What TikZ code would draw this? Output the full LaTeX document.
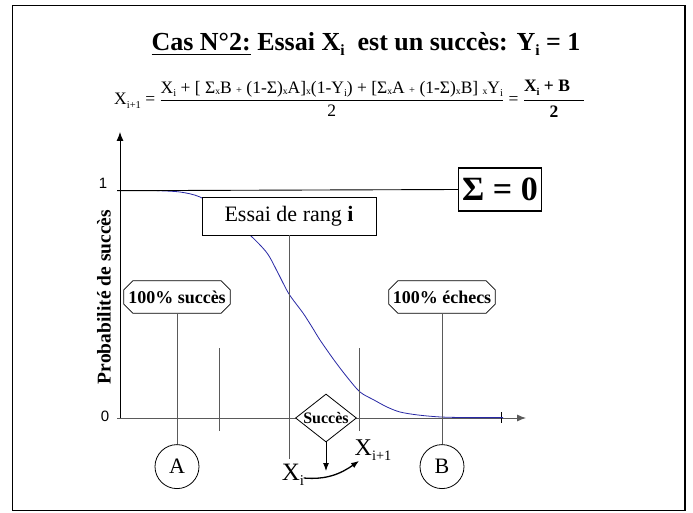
\documentclass[tikz,border=0pt]{standalone}
\usepackage{amsmath}
\usepackage{graphicx}
\usepackage{fontspec}
\setmainfont{Liberation Serif}[BoldFont={Liberation Serif Bold}, ItalicFont={Liberation Serif Italic}]
\newfontfamily\arialfont{Liberation Sans}
\usepackage{tikz}
\usetikzlibrary{shapes.geometric, arrows.meta, positioning, calc}
\usepackage{xcolor}
\definecolor{curveblue}{RGB}{40,40,165}
\definecolor{lineg}{RGB}{90,90,90}
\newcommand{\fsz}[1]{\fontsize{#1}{#1}\selectfont}
\newcommand{\idx}[1]{\raisebox{-0.45ex}{\scalebox{0.6}{#1}}}
\newcommand{\mulx}{\raisebox{-0.1ex}{\scalebox{0.55}{x}}}
\newcommand{\smplus}{\scalebox{0.6}{+}}
% chamfered outline round a named node
\newcommand{\hexframe}[1]{%
    \draw[draw=black, line width=0.8pt]
        ([xshift=9pt]#1.north west) -- ([xshift=-9pt]#1.north east)
        -- ([yshift=-9pt]#1.north east) -- ([yshift=9pt]#1.south east)
        -- ([xshift=-9pt]#1.south east) -- ([xshift=9pt]#1.south west)
        -- ([yshift=9pt]#1.south west) -- ([yshift=-9pt]#1.north west) -- cycle;}

\begin{document}
\begin{tikzpicture}[x=1pt, y=-1pt,
    hexbox/.style={rectangle, fill=white, minimum width=106pt, minimum height=32pt, inner sep=0pt, font=\fsz{18}\bfseries},
    textbox/.style={rectangle, draw=black, line width=0.8pt, fill=white, minimum width=174pt, minimum height=38pt, font=\fsz{22}},
    sigmabox/.style={rectangle, draw=black, fill=white, line width=1.1pt, minimum width=80pt, minimum height=43pt, font=\fsz{34}\bfseries},
    circ/.style={circle, draw=black, line width=0.8pt, fill=white, minimum size=44pt, inner sep=0pt, font=\fsz{22}},
    decision/.style={diamond, draw=black, line width=0.8pt, fill=white, minimum width=61pt, minimum height=48pt, inner sep=0pt, font=\fsz{16}\bfseries},
    guide/.style={draw=lineg, line width=0.9pt},
    axis/.style={-{Latex[length=9pt, width=7pt]}, line width=0.9pt},
    arrow/.style={-{Latex[length=8pt, width=6pt]}, line width=0.9pt}]

    % Page and frame
    \fill[white] (0,0) rectangle (693,513);
    \useasboundingbox (0,0) rectangle (693,513);
    \draw[line width=1.7pt] (12.5,5.5) rectangle (685,510.5);

    % Title and formula
    \node[font=\fsz{26}\bfseries] (title) at (366,44) {\underline{Cas N°2:} Essai X\idx{i}\ \ est un succès: Y\idx{i} = 1};
    \node[anchor=base west, font=\fsz{17.5}, inner sep=0pt] (eq) at (114,105) {X\idx{i+1} = $\dfrac{\text{X\idx{i} + [ Σ\mulx B \smplus{} (1-Σ)\mulx A]\mulx(1-Y\idx{i}) + [Σ\mulx A \smplus{} (1-Σ)\mulx B] \mulx Y\idx{i}}}{\text{2}}$ = $\genfrac{}{}{1.6pt}{0}{\text{\bfseries X\idx{i} + B}\hspace{14pt}}{\text{\bfseries 2}}$};

    % Axes
    \coordinate (orig) at (120,418);
    \coordinate (ytip) at (120,132);
    \coordinate (xbeg) at (117,418);
    \coordinate (xtip) at (526,418);
    \coordinate (lvl) at (117,190.7);
    \coordinate (tickt) at (501,412);
    \coordinate (tickb) at (501,423);
    \draw[axis, lineg] (xbeg) -- (xtip);
    \draw[axis] (orig) -- (ytip);
    \draw[line width=0.9pt] (tickt) -- (tickb);
    \node[font={\arialfont\fsz{15}}] (one) at (103,183) {1};
    \node[font={\arialfont\fsz{15}}] (zero) at (105,416) {0};
    \node[rotate=90, font=\fsz{19.5}\bfseries] (ylab) at (104,297) {Probabilité de succès};

    % Success probability curve
    \draw[curveblue, line width=0.8pt] plot[smooth, tension=0.5] coordinates {(157,190.7) (180,192) (200,197) (225,212) (250,235) (267,253) (278,273) (289,294) (303,313) (312,327) (320,340) (334,360) (347,377) (360,392) (374,400) (387,407) (400,412) (418,415) (441,417) (470,417.6) (503,417.6)};

    % Boxes
    \node[sigmabox] (sigma) at (500,189.5) {Σ = 0};
    \node[textbox] (essai) at (289,216) {Essai de rang \textbf{i}};
    \node[hexbox] (succ) at (177,297) {100\% succès};
    \node[hexbox] (echec) at (442,297) {100\% échecs};
    \hexframe{succ}
    \hexframe{echec}
    \node[circ, below=131pt of succ] (A) {A};
    \node[circ, below=131pt of echec] (B) {B};
    \node[decision] (succes) at (326,418) {\makebox[0pt]{Succès}};
    \node[font=\fsz{25}] (xi) at (293,475) {X\idx{i}};
    \node[font=\fsz{24}] (xnext) at (373,450) {X\idx{i+1}};

    % Guide lines
    \coordinate (essaiend) at (289,459);
    \coordinate (lefttop) at (219,348);
    \coordinate (leftbot) at (219,431);
    \coordinate (righttop) at (359,348);
    \coordinate (rightbot) at (359,431);
    \coordinate (drop) at (326,471);
    \draw[line width=0.9pt] (lvl) -- (sigma.west);
    \draw[guide] (essai) -- (essaiend);
    \draw[guide] (succ) -- (A);
    \draw[guide] (echec) -- (B);
    \draw[guide] (lefttop) -- (leftbot);
    \draw[guide] (righttop) -- (rightbot);

    % Arrows
    \draw[arrow] (succes.south) -- (drop);
    \draw[arrow, line width=1.3pt] ([xshift=-4pt, yshift=-3pt]xi.east) to[out=-5, in=215] ([xshift=8pt, yshift=3pt]xnext.south west);
\end{tikzpicture}
\end{document}
